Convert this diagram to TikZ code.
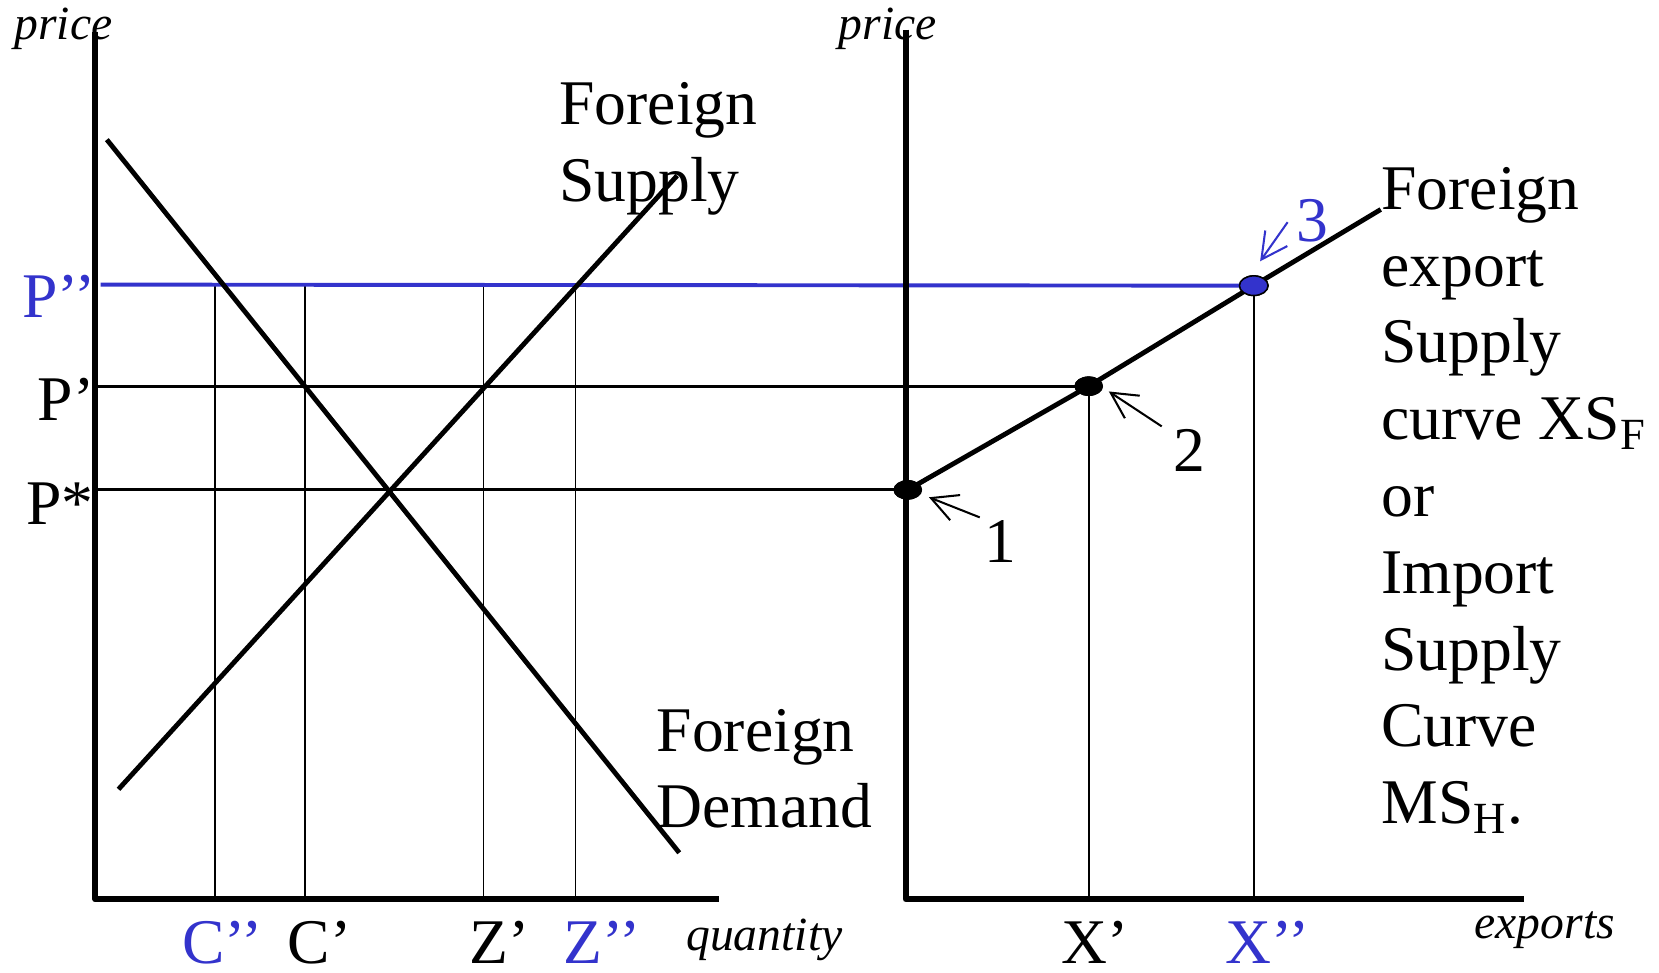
\documentclass[tikz,border=0pt]{standalone}
\usepackage{fontspec}
\setmainfont{Liberation Serif}
\usetikzlibrary{arrows.meta,shapes.geometric}
\definecolor{pblue}{RGB}{51,51,204}
\begin{document}
\begin{tikzpicture}[x=0.01cm,y=-0.01cm,
 axis/.style={line width=1.6pt, line join=round},
 curve/.style={line width=1.3pt},
 guide/.style={line width=0.8pt},
 vguide/.style={line width=0.45pt},
 big/.style={font=\fontsize{17.1}{20.63}\selectfont, inner sep=0pt},
 lab/.style={font=\fontsize{12.8}{15}\selectfont\itshape, inner sep=0pt},
 dot/.style={ellipse, fill=black, minimum width=0.27cm, minimum height=0.185cm, inner sep=0pt},
 pointer/.style={line width=0.55pt, -{Straight Barb[length=0.245cm,width=0.255cm]}},
]
\useasboundingbox (0,0) rectangle (1568,919);

% coordinates
\coordinate (Ltop) at (90,30);
\coordinate (O1) at (90,850);
\coordinate (Lend) at (680,850);
\coordinate (Rtop) at (856,28);
\coordinate (O2) at (856,850);
\coordinate (Rend) at (1440,850);

% dots
\node[dot] (d1) at (858,463) {};
\node[dot] (d2) at (1029,365) {};
\node[dot, fill=pblue, draw=black, line width=0.4pt] (d3) at (1185,270) {};

% vertical guides
\coordinate (c2t) at (203,269); \coordinate (c2b) at (203,850);
\coordinate (c1t) at (288,269); \coordinate (c1b) at (288,850);
\coordinate (z1t) at (457,269); \coordinate (z1b) at (457,850);
\coordinate (z2t) at (544,269); \coordinate (z2b) at (544,850);
\coordinate (x1b) at (1029,850);
\coordinate (x2b) at (1185,850);
\draw[vguide] (c2t) -- (c2b);
\draw[vguide] (c1t) -- (c1b);
\draw[vguide] (z1t) -- (z1b);
\draw[vguide] (z2t) -- (z2b);
\draw[vguide] (d2.center) -- (x1b);
\draw[vguide] (d3.center) -- (x2b);

% horizontal price lines
\coordinate (pppl) at (95,269);
\coordinate (ppl) at (90,365);
\coordinate (psl) at (90,463);
\draw[guide] (ppl) -- (d2.center);
\draw[guide] (psl) -- (d1.center);
\draw[line width=1.05pt, pblue] (pppl) -- (d3.center);

% demand and supply
\coordinate (dA) at (101,132); \coordinate (dB) at (642,806);
\coordinate (sA) at (112,746); \coordinate (sB) at (640,166);
\draw[curve] (dA) -- (dB);
\draw[curve] (sA) -- (sB);

% export supply
\coordinate (xsend) at (1305,198);
\draw[curve] (d1.center) -- (d2.center) -- (d3.center) -- (xsend);

% axes
\draw[axis] (Ltop) -- (O1) -- (Lend);
\draw[axis] (Rtop) -- (O2) -- (Rend);

% redraw dots on top
\node[dot] at (d1) {};
\node[dot] at (d2) {};
\node[dot, fill=pblue, draw=black, line width=0.4pt] at (d3) {};

% axis labels
\node[lab, anchor=base] (pl) at (60,37) {price};
\node[lab, anchor=base] (pr) at (839,37) {price};
\node[lab, anchor=base west] (q) at (648,898) {quantity};
\node[lab, anchor=base west] (ex) at (1393,887) {exports};

% price labels
\node[big, anchor=base east, text=pblue] (Ppp) at (91,300) {P’’};
\node[big, anchor=base east] (Pp) at (90,397) {P’};
\node[big, anchor=base east] (Ps) at (89,496) {P*};

% quantity labels
\node[big, anchor=base, text=pblue] (Cpp) at (210,911) {C’’};
\node[big, anchor=base] (Cp) at (302,911) {C’};
\node[big, anchor=base] (Zp) at (472,911) {Z’};
\node[big, anchor=base, text=pblue] (Zpp) at (569,911) {Z’’};
\node[big, anchor=base] (Xp) at (1035,911) {X’};
\node[big, anchor=base, text=pblue] (Xpp) at (1198,911) {X’’};

% curve labels
\node[big, anchor=base west] (fs) at (528,118) {\begin{tabular}[t]{@{}l@{}}Foreign\\Supply\end{tabular}};
\node[big, anchor=base west] (fd) at (620,710) {\begin{tabular}[t]{@{}l@{}}Foreign\\Demand\end{tabular}};
\node[big, anchor=base west] (xs) at (1305,198) {\begin{tabular}[t]{@{}l@{}}Foreign\\export\\Supply\\curve XS\textsubscript{F}\\or\\Import\\Supply\\Curve\\MS\textsubscript{H}.\end{tabular}};

% numbered pointers
\node[big, anchor=base] (n1) at (946,532) {1};
\node[big, anchor=base] (n2) at (1124,446) {2};
\node[big, anchor=base, text=pblue] (n3) at (1240,228) {3};
\coordinate (a1s) at (926,489); \coordinate (a1e) at (878,470);
\coordinate (a2s) at (1098,403); \coordinate (a2e) at (1048,370);
\coordinate (a3s) at (1217,210); \coordinate (a3e) at (1191,247);
\draw[pointer] (a1s) -- (a1e);
\draw[pointer] (a2s) -- (a2e);
\draw[pointer, pblue] (a3s) -- (a3e);
\end{tikzpicture}
\end{document}
